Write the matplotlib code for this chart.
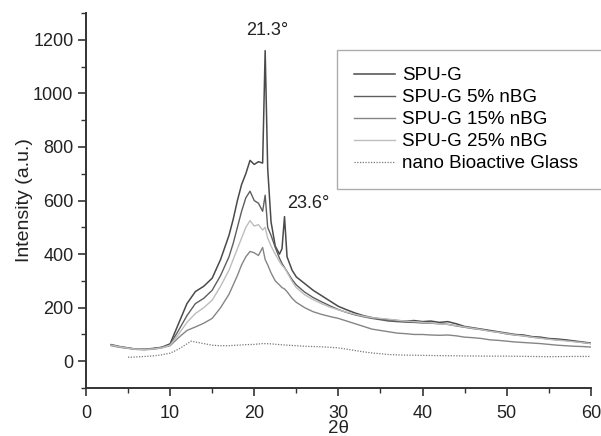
import matplotlib
matplotlib.use("Agg")
import matplotlib.pyplot as plt
from matplotlib.ticker import MultipleLocator

plt.rcParams['font.family'] = ['Liberation Sans', 'DejaVu Sans']

# 2theta grid shared by the four SPU-G curves
two_theta = [3, 4, 5, 6, 7, 8, 9, 10, 11, 12, 13, 14, 15, 16, 17, 17.5, 18, 18.5,
             19, 19.5, 20, 20.5, 21, 21.3, 21.6, 22, 22.5, 23, 23.3, 23.6, 23.9,
             24.5, 25, 26, 27, 28, 29, 30, 31, 32, 33, 34, 35, 36, 37, 38, 39, 40,
             41, 42, 43, 44, 45, 46, 47, 48, 49, 50, 51, 52, 53, 54, 55, 56, 57,
             58, 59, 60]

spu_g = [62, 55, 50, 45, 45, 48, 52, 65, 140, 215, 260, 280, 310, 380, 470, 530,
         600, 660, 700, 750, 735, 745, 740, 1160, 720, 520, 430, 400, 420, 540,
         390, 340, 315, 290, 265, 245, 225, 205, 192, 180, 170, 163, 158, 155,
         152, 150, 152, 148, 150, 145, 148, 140, 130, 125, 120, 115, 110, 105,
         100, 98, 92, 90, 85, 83, 80, 76, 72, 68]

spu_g_5 = [60, 54, 49, 45, 44, 47, 52, 62, 115, 170, 215, 235, 265, 320, 390, 440,
           500, 560, 610, 635, 600, 590, 560, 620, 500, 470, 425, 385, 365, 350,
           335, 305, 285, 258, 238, 222, 207, 193, 182, 173, 166, 160, 155, 150,
           148, 146, 145, 143, 142, 140, 138, 132, 127, 122, 118, 113, 108, 102,
           98, 95, 90, 87, 83, 80, 78, 74, 70, 66]

spu_g_15 = [58, 52, 48, 44, 43, 45, 50, 58, 88, 115, 128, 142, 160, 200, 250, 285,
            320, 360, 390, 410, 405, 395, 425, 380, 360, 330, 300, 285, 275, 270,
            260, 235, 220, 200, 185, 175, 167, 160, 150, 140, 130, 120, 115, 110,
            105, 103, 100, 100, 98, 97, 98, 95, 90, 88, 85, 80, 78, 75, 72, 70,
            68, 66, 63, 60, 58, 56, 55, 53]

spu_g_25 = [60, 54, 49, 45, 44, 46, 50, 60, 100, 145, 178, 200, 228, 280, 340,
            380, 420, 460, 500, 525, 505, 510, 490, 500, 460, 430, 400, 372, 358,
            348, 333, 298, 275, 248, 230, 215, 202, 192, 183, 175, 168, 163, 160,
            157, 153, 150, 148, 145, 143, 140, 137, 133, 128, 123, 118, 112, 108,
            103, 98, 95, 90, 86, 82, 79, 76, 73, 70, 66]

# nano bioactive glass (dotted)
nbg_theta = [5, 6, 7, 8, 9, 10, 11, 12, 12.5, 13, 14, 15, 16, 17, 18, 19, 20, 21,
             22, 23, 24, 25, 26, 27, 28, 29, 30, 31, 32, 33, 34, 35, 36, 38, 40,
             42, 45, 48, 50, 53, 55, 58, 60]
nbg = [15, 16, 18, 20, 24, 30, 45, 65, 75, 72, 66, 60, 58, 58, 60, 62, 63, 66,
       65, 62, 60, 58, 56, 55, 54, 52, 50, 45, 40, 35, 31, 28, 25, 23, 22, 21, 20,
       19, 19, 18, 17, 18, 18]

peak_labels = ['21.3°', '23.6°']
peak_pos = [(21.6, 1235), (23.9, 588)]

fig = plt.figure(figsize=(6.01, 4.36), dpi=100)
ax = fig.add_axes([0.143, 0.110, 0.840, 0.860])

ax.plot(two_theta, spu_g, color='#4a4a4a', lw=1.1, label='SPU-G')
ax.plot(two_theta, spu_g_5, color='#5e5e5e', lw=1.0, label='SPU-G 5% nBG')
ax.plot(two_theta, spu_g_15, color='#858585', lw=1.0, label='SPU-G 15% nBG')
ax.plot(two_theta, spu_g_25, color='#bdbdbd', lw=1.0, label='SPU-G 25% nBG')
ax.plot(nbg_theta, nbg, color='#777777', lw=0.9, ls=(0, (1, 1.2)),
        label='nano Bioactive Glass')

for txt, (px, py) in zip(peak_labels, peak_pos):
    ha = 'center' if txt == '21.3°' else 'left'
    ax.text(px, py, txt, ha=ha, va='center', fontsize=13, color='#222222')

ax.set_xlim(0, 60)
ax.set_ylim(-100, 1300)
ax.xaxis.set_major_locator(MultipleLocator(10))
ax.xaxis.set_minor_locator(MultipleLocator(5))
ax.yaxis.set_minor_locator(MultipleLocator(100))
ax.set_yticks(range(0, 1201, 200))

for s in ['top', 'right']:
    ax.spines[s].set_visible(False)
for s in ['left', 'bottom']:
    ax.spines[s].set_linewidth(1.4)
    ax.spines[s].set_color('#333333')

ax.tick_params(which='major', length=6, width=1.2, labelsize=13,
               color='#333333', labelcolor='#222222')
ax.tick_params(which='minor', length=3.5, width=1.0, color='#333333')
ax.tick_params(axis='x', which='major', pad=6)
ax.tick_params(axis='y', which='major', pad=3)

ax.set_ylabel('Intensity (a.u.)', fontsize=14, color='#222222', labelpad=0)
ax.set_xlabel('2θ', fontsize=13.5, color='#222222', labelpad=-1)

# legend box runs off the right edge, as in the original figure
leg = ax.legend(loc='upper left', bbox_to_anchor=(0.561, 0.885 - 0.31, 0.45, 0.31),
                bbox_transform=fig.transFigure, mode='expand', fontsize=13.5,
                frameon=True, fancybox=False, handlelength=2.2,
                handletextpad=0.35, labelspacing=0.26, borderpad=0.9,
                borderaxespad=0)
leg.get_frame().set_edgecolor('#999999')
leg.get_frame().set_linewidth(1.0)

fig.savefig('out.png', dpi=100)
